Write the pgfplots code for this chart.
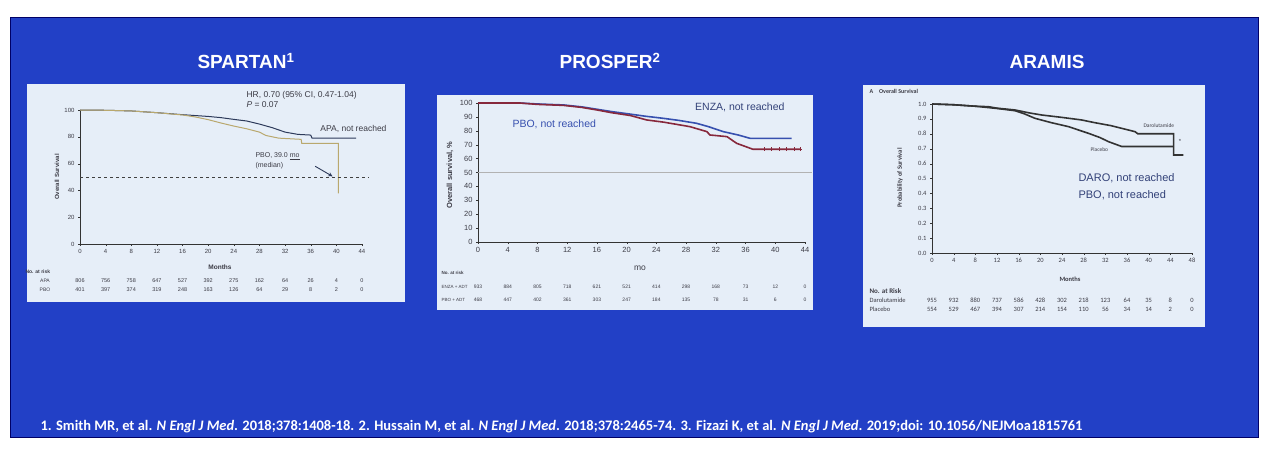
\documentclass[border=0pt]{standalone}
\usepackage{pgfplots}
\pgfplotsset{compat=1.18}
\usepackage{fontspec}
\setmainfont{Liberation Sans}
\newfontfamily\carlito{Carlito}
\newcommand\fs[1]{\fontsize{#1}{#1}\selectfont}
\definecolor{slide}{RGB}{34,64,198}
\definecolor{panel}{RGB}{230,238,248}
\definecolor{apa}{RGB}{45,58,90}
\definecolor{spbo}{RGB}{185,168,110}
\definecolor{enza}{RGB}{55,80,175}
\definecolor{ppbo}{RGB}{135,40,60}
\definecolor{txt}{RGB}{60,60,70}
\definecolor{navy}{RGB}{50,65,120}

\pgfplotsset{km/.style={scale only axis, axis lines*=left,
  axis line style={-, draw=black!80, line width=0.8pt},
  tick align=outside, major tick length=2pt, tick style={black!80},
  clip=false, /pgf/number format/assume math mode=true,
  xtick distance=4, anchor=south west, xmin=0, ymin=0}}

\begin{document}
\begin{tikzpicture}[x=1pt,y=1pt]
\path[use as bounding box, fill=white] (0,0) rectangle (1286,456);
\fill[slide] (10,19) rectangle (1258,438);
\draw[black!60!blue, line width=1pt] (10,19) rectangle (1258,438);

% titles
\node[white, font=\bfseries\fs{19}] at (246,395) {SPARTAN\textsuperscript{1}};
\node[white, font=\bfseries\fs{19}] at (610,395) {PROSPER\textsuperscript{2}};
\node[white, font=\bfseries\fs{19}] at (1047,394) {ARAMIS};

% panels
\fill[panel] (27,154) rectangle (405,372);
\fill[panel] (437,146) rectangle (813,361);
\fill[panel] (863,129) rectangle (1205,371);

% ---------------- SPARTAN
\begin{axis}[km, at={(80pt,212pt)}, width=282pt, height=134pt, xmax=44, ymax=100,
  ytick={0,20,...,100}, ticklabel style={font=\fs{6}, text=txt}]
\addplot[apa, line width=1pt] coordinates {
  (0,100) (4,99.8) (8,99.3) (12,98) (16,96.5) (20,95.2) (22,94.3) (24,93)
  (26,91.8) (28,89.5) (30,86.8) (32,83.5) (34,81.8) (36,81.3) (36.2,79) (43.1,79)};
\addplot[spbo, line width=1pt] coordinates {
  (0,100) (4,99.8) (8,99.3) (12,98) (16,96.3) (18,94.8) (20,92.8) (22,90.3)
  (24,88) (26,86) (28,83.5) (29,81) (31,79) (34.5,78.1) (34.6,75.1) (40.3,75.1) (40.3,37.8)};
\draw[dashed, line width=0.9pt, black!75] (axis cs:0,50) -- (axis cs:45,50);
\draw[-stealth, line width=0.9pt, apa] (axis cs:36.7,58) -- (axis cs:39.4,50.5);
\end{axis}
\node[txt, anchor=west, font=\fs{8.5}] at (243,361) {HR, 0.70 (95\% CI, 0.47-1.04)};
\node[txt, anchor=west, font=\fs{8.5}] at (243,351) {\textit{P} = 0.07};
\node[txt, anchor=east, font=\fs{8.5}] at (390,327) {APA, not reached};
\node[txt, anchor=west, font=\fs{7}] at (252,300) {PBO, 39.0 \underline{mo}};
\node[txt, anchor=west, font=\fs{7}] at (252,290) {(median)};
\node[txt, rotate=90, font=\bfseries\fs{6}] at (57,279) {Overall Survival};
\node[txt, font=\bfseries\fs{6.5}] at (220,189) {Months};
\node[txt, anchor=west, font=\bfseries\fs{5}] at (22,184) {No. at risk};
\node[txt, font=\fs{5}] at (45,175) {APA};
\node[txt, font=\fs{5}] at (45,166) {PBO};
\foreach \v [count=\i from 0] in {806,756,758,647,527,392,275,162,64,26,4,0}
  \node[txt, font=\fs{5.5}] at ({80+4*\i*6.409},175) {\v};
\foreach \v [count=\i from 0] in {401,397,374,319,248,163,126,64,29,8,2,0}
  \node[txt, font=\fs{5.5}] at ({80+4*\i*6.409},166) {\v};

% ---------------- PROSPER
\begin{axis}[km, at={(478pt,214pt)}, width=327pt, height=139pt, xmax=44, ymax=100,
  ytick={0,10,...,100}, ticklabel style={font=\fs{7.5}, text=txt}]
\draw[black!30, line width=0.5pt] (axis cs:0,50) -- (axis cs:45,50);
\addplot[enza, line width=1.6pt] coordinates {
  (0,100) (5.6,100) (8,99.3) (11.5,98.6) (14,97.2) (16,95.5) (18,93.8) (20.5,92)
  (22.5,90.5) (24.9,89) (27,87.5) (29.4,85.4) (31,83) (33,79.4) (35,77) (36.6,74.6) (42.2,74.6)};
\addplot[ppbo, line width=1.6pt] coordinates {
  (0,100) (5.6,100) (8,99) (11.5,98.3) (14,96.8) (16,95) (18,93) (20.5,91)
  (22.7,87.8) (25,86.2) (28.5,83) (30.8,79.4) (31.2,77) (33.5,75.8) (34.8,71) (37,66.7) (43.3,66.7)};
\addplot[only marks, mark=+, mark size=2pt, ppbo] coordinates {
  (38.5,66.7) (39.5,66.7) (40.5,66.7) (41.5,66.7) (42.5,66.7) (43.3,66.7)};
\end{axis}
\node[navy, anchor=east, font=\fs{10.5}] at (788,349) {ENZA, not reached};
\node[enza, anchor=west, font=\fs{10.5}] at (509,332) {PBO, not reached};
\node[txt, rotate=90, font=\bfseries\fs{7.5}] at (450,281) {Overall survival, \%};
\node[txt, font=\fs{8.5}] at (640,188) {mo};
\node[txt, anchor=west, font=\bfseries\fs{4.5}] at (438,183) {No. at risk};
\node[txt, anchor=west, font=\fs{4.5}] at (438,169) {ENZA + ADT};
\node[txt, anchor=west, font=\fs{4.5}] at (438,156) {PBO + ADT};
\foreach \v [count=\i from 0] in {933,884,805,718,621,521,414,298,168,73,12,0}
  \node[txt, font=\fs{5}] at ({478+4*\i*7.432},169) {\v};
\foreach \v [count=\i from 0] in {468,447,402,361,303,247,184,135,78,31,6,0}
  \node[txt, font=\fs{5}] at ({478+4*\i*7.432},156) {\v};

% ---------------- ARAMIS
\begin{axis}[km, at={(932pt,203pt)}, width=260pt, height=149pt, xmax=48, ymax=1,
  ytick={0,0.1,...,1.0}, ticklabel style={font=\carlito\fs{6.5}, text=txt},
  yticklabel style={/pgf/number format/.cd, fixed, fixed zerofill, precision=1}]
\addplot[black!80, line width=1.6pt] coordinates {
  (0,1) (4,0.995) (8,0.985) (10.4,0.982) (12,0.972) (15.3,0.96) (18,0.94) (20.3,0.926)
  (24,0.91) (27.6,0.893) (30,0.875) (33,0.855) (35,0.837) (37.5,0.814) (38,0.80)
  (44.6,0.80) (44.6,0.658) (46.4,0.658)};
\addplot[black!80, line width=1.6pt] coordinates {
  (0,1) (4,0.995) (8,0.985) (12,0.97) (15.3,0.955) (17,0.935) (19,0.904) (22,0.875)
  (25.2,0.848) (28.9,0.803) (31,0.775) (32.6,0.747) (35,0.715) (44.6,0.715)};
\node[txt, font=\fs{6}] at (axis cs:45.8,0.75) {*};
\end{axis}
\node[txt, anchor=west, font=\carlito\bfseries\fs{6}] at (866,365) {A\quad Overall Survival};
\node[txt, rotate=90, font=\carlito\bfseries\fs{6.5}] at (900,278) {Probability of Survival};
\node[txt, anchor=west, font=\carlito\fs{5.5}] at (1140,330) {Darolutamide};
\node[txt, anchor=west, font=\carlito\fs{5.5}] at (1087,306) {Placebo};
\node[navy, anchor=west, font=\fs{11}] at (1075,278) {DARO, not reached};
\node[navy, anchor=west, font=\fs{11}] at (1075,261) {PBO, not reached};
\node[txt, font=\carlito\bfseries\fs{6.5}] at (1070,177) {Months};
\node[txt, anchor=west, font=\carlito\bfseries\fs{7}] at (866,165) {No. at Risk};
\node[txt, anchor=west, font=\carlito\fs{6.5}] at (866,156) {Darolutamide};
\node[txt, anchor=west, font=\carlito\fs{6.5}] at (866,147) {Placebo};
\foreach \v [count=\i from 0] in {955,932,880,737,586,428,302,218,123,64,35,8,0}
  \node[txt, font=\carlito\fs{6.5}] at ({932+4*\i*5.417},156) {\v};
\foreach \v [count=\i from 0] in {554,529,467,394,307,214,154,110,56,34,14,2,0}
  \node[txt, font=\carlito\fs{6.5}] at ({932+4*\i*5.417},147) {\v};

% footer
\node[white, anchor=west, font=\carlito\bfseries\fs{14.5}] at (37,29)
  {1. Smith MR, et al. \textit{N Engl J Med}. 2018;378:1408-18. 2. Hussain M, et al. \textit{N Engl J Med}. 2018;378:2465-74. 3. Fizazi K, et al. \textit{N Engl J Med}. 2019;doi: 10.1056/NEJMoa1815761};
\end{tikzpicture}
\end{document}
